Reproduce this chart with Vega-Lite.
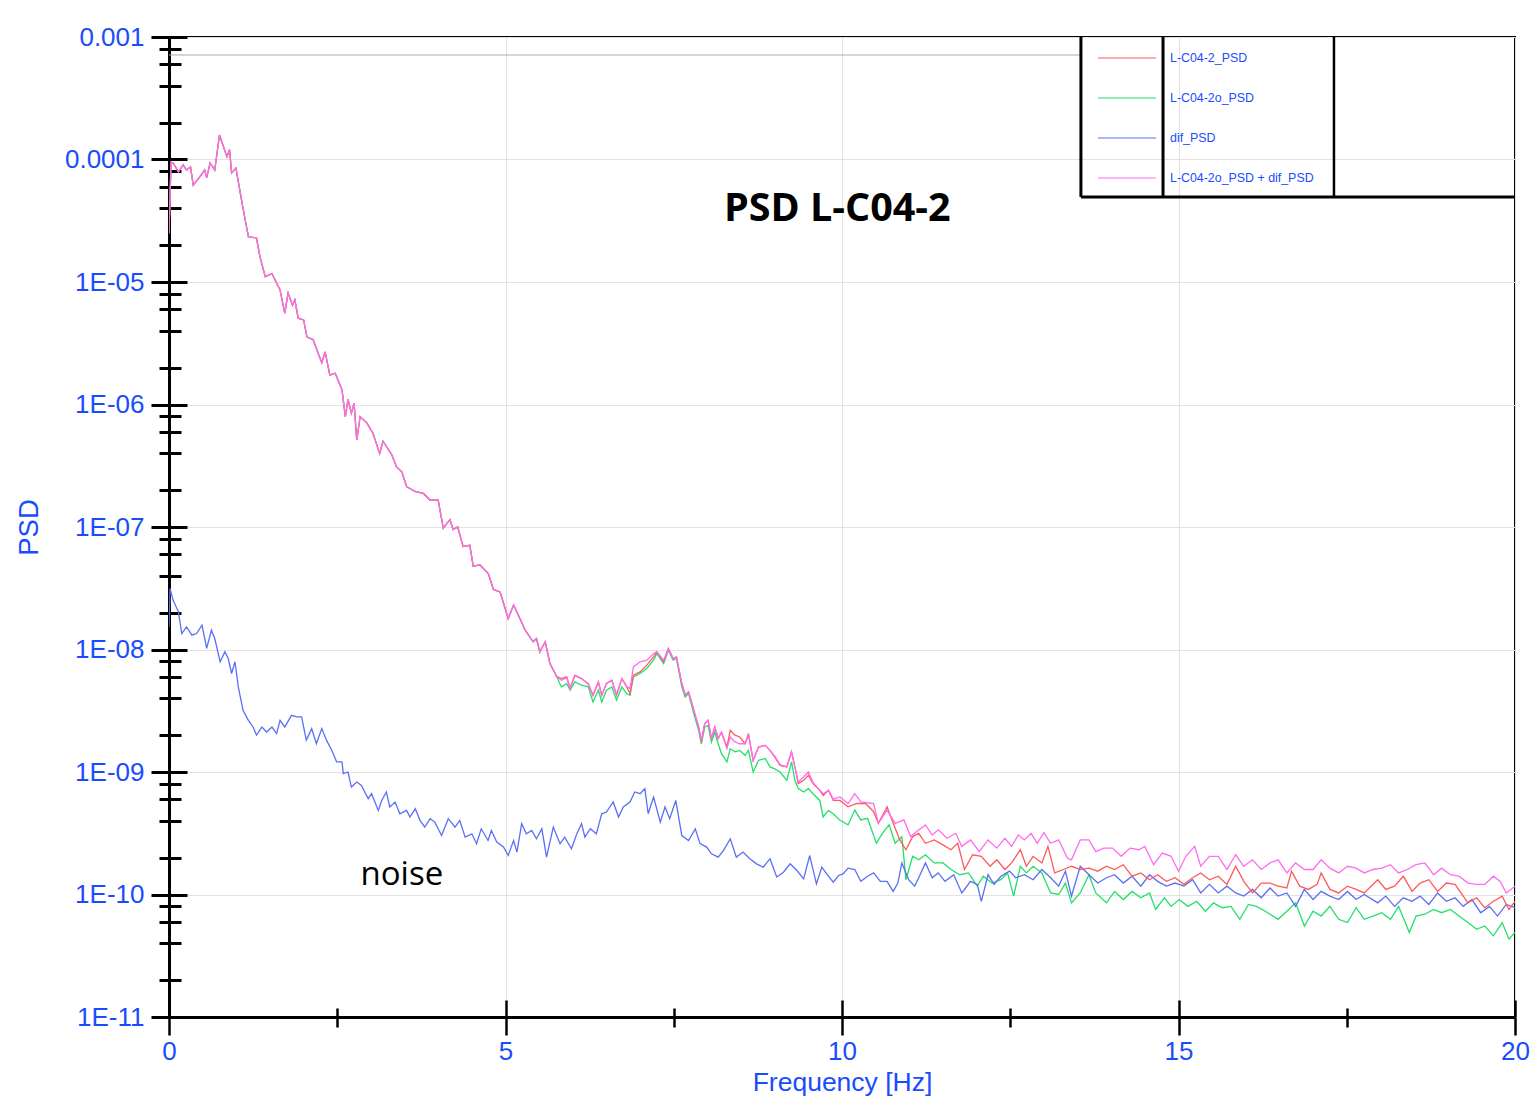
{
"$schema":"https://vega.github.io/schema/vega-lite/v6.json",
"width":1346,"height":980,"autosize":"none",
"padding":{"left":169,"top":37,"right":19,"bottom":93},
"background":"white",
"datasets":{
"red":[{"f":0,"v":2.5e-5},{"f":0.03,"v":9.5e-5},{"f":0.064,"v":9.33e-5},{"f":0.14,"v":7.94e-5},{"f":0.21,"v":9.02e-5},{"f":0.26,"v":8.2e-5},{"f":0.32,"v":8.71e-5},{"f":0.36,"v":6.17e-5},{"f":0.46,"v":7.24e-5},{"f":0.53,"v":8.2e-5},{"f":0.56,"v":7.08e-5},{"f":0.61,"v":9.33e-5},{"f":0.68,"v":8.2e-5},{"f":0.75,"v":1.585e-4},{"f":0.81,"v":1.27e-4},{"f":0.86,"v":1.05e-4},{"f":0.9,"v":1.2e-4},{"f":0.93,"v":7.76e-5},{"f":0.995,"v":8.51e-5},{"f":1.095,"v":4.12e-5},{"f":1.18,"v":2.34e-5},{"f":1.3,"v":2.29e-5},{"f":1.35,"v":1.62e-5},{"f":1.43,"v":1.107e-5},{"f":1.53,"v":1.17e-5},{"f":1.65,"v":8.61e-6},{"f":1.72,"v":5.56e-6},{"f":1.77,"v":8.13e-6},{"f":1.835,"v":6.46e-6},{"f":1.87,"v":7.13e-6},{"f":1.92,"v":5.06e-6},{"f":2.0,"v":4.9e-6},{"f":2.05,"v":3.55e-6},{"f":2.14,"v":3.39e-6},{"f":2.27,"v":2.19e-6},{"f":2.32,"v":2.69e-6},{"f":2.39,"v":1.74e-6},{"f":2.47,"v":1.8e-6},{"f":2.57,"v":1.32e-6},{"f":2.62,"v":7.94e-7},{"f":2.66,"v":1.1e-6},{"f":2.71,"v":8.51e-7},{"f":2.75,"v":1.02e-6},{"f":2.79,"v":5.13e-7},{"f":2.84,"v":7.94e-7},{"f":2.94,"v":7.08e-7},{"f":3.03,"v":5.82e-7},{"f":3.13,"v":3.98e-7},{"f":3.18,"v":5.01e-7},{"f":3.31,"v":3.89e-7},{"f":3.38,"v":3.09e-7},{"f":3.46,"v":2.82e-7},{"f":3.53,"v":2.14e-7},{"f":3.655,"v":1.95e-7},{"f":3.78,"v":1.88e-7},{"f":3.88,"v":1.66e-7},{"f":4.0,"v":1.66e-7},{"f":4.075,"v":9.77e-8},{"f":4.175,"v":1.15e-7},{"f":4.22,"v":9.55e-8},{"f":4.29,"v":1.0e-7},{"f":4.37,"v":6.92e-8},{"f":4.47,"v":7.08e-8},{"f":4.52,"v":4.79e-8},{"f":4.62,"v":4.9e-8},{"f":4.745,"v":4.17e-8},{"f":4.82,"v":3.09e-8},{"f":4.92,"v":2.95e-8},{"f":5.04,"v":1.79e-8},{"f":5.12,"v":2.3e-8},{"f":5.19,"v":1.91e-8},{"f":5.29,"v":1.445e-8},{"f":5.41,"v":1.156e-8},{"f":5.46,"v":1.23e-8},{"f":5.51,"v":9.55e-9},{"f":5.59,"v":1.156e-8},{"f":5.66,"v":7.69e-9},{"f":5.76,"v":6.03e-9},
{"f":5.83,"v":5.79e-9},{"f":5.91,"v":5.98e-9},{"f":5.96,"v":4.8e-9},{"f":6.03,"v":6.17e-9},{"f":6.13,"v":5.79e-9},{"f":6.23,"v":5.27e-9},{"f":6.3,"v":4.23e-9},{"f":6.38,"v":5.44e-9},{"f":6.43,"v":4.23e-9},{"f":6.5,"v":5.27e-9},{"f":6.58,"v":5.61e-9},{"f":6.65,"v":4.23e-9},{"f":6.73,"v":5.79e-9},{"f":6.8,"v":4.95e-9},{"f":6.85,"v":4.37e-9},{"f":6.9,"v":6.17e-9},{"f":7.0,"v":6.56e-9},{"f":7.1,"v":7.45e-9},{"f":7.2,"v":8.71e-9},{"f":7.25,"v":9.57e-9},{"f":7.35,"v":7.94e-9},{"f":7.42,"v":1.02e-8},{"f":7.49,"v":8.44e-9},{"f":7.54,"v":8.71e-9},{"f":7.62,"v":5.27e-9},{"f":7.67,"v":4.23e-9},{"f":7.72,"v":4.51e-9},{"f":7.79,"v":3.3e-9},{"f":7.87,"v":2.33e-9},{"f":7.91,"v":1.76e-9},{"f":7.96,"v":2.48e-9},{"f":8.01,"v":2.64e-9},{"f":8.06,"v":1.87e-9},{"f":8.11,"v":2.33e-9},{"f":8.16,"v":1.87e-9},{"f":8.21,"v":2.12e-9},{"f":8.29,"v":1.6e-9},{"f":8.34,"v":2.19e-9},{"f":8.41,"v":2.0e-9},{"f":8.48,"v":1.93e-9},{"f":8.56,"v":1.7e-9},{"f":8.61,"v":2.06e-9},{"f":8.68,"v":1.245e-9},{"f":8.76,"v":1.6e-9},{"f":8.86,"v":1.65e-9},{"f":8.93,"v":1.5e-9},{"f":9.0,"v":1.33e-9},{"f":9.08,"v":1.13e-9},{"f":9.18,"v":1.1e-9},{"f":9.25,"v":1.46e-9},{"f":9.3,"v":1.1e-9},{"f":9.35,"v":8.03e-10},{"f":9.43,"v":8.55e-10},{"f":9.5,"v":9.4e-10},{"f":9.57,"v":8.03e-10},{"f":9.67,"v":7.08e-10},{"f":9.72,"v":6.44e-10},{"f":9.8,"v":7.08e-10},{"f":9.87,"v":5.86e-10},{"f":9.97,"v":5.86e-10},
{"f":10.09,"v":5.2e-10},{"f":10.22,"v":5.53e-10},{"f":10.35,"v":5.53e-10},{"f":10.47,"v":4.74e-10},{"f":10.54,"v":3.81e-10},{"f":10.67,"v":5.2e-10},{"f":10.76,"v":3.81e-10},{"f":10.86,"v":2.79e-10},{"f":10.95,"v":2.32e-10},{"f":11.05,"v":2.97e-10},{"f":11.14,"v":3.16e-10},{"f":11.24,"v":2.62e-10},{"f":11.37,"v":2.79e-10},{"f":11.5,"v":2.54e-10},{"f":11.62,"v":2.32e-10},{"f":11.72,"v":2.62e-10},{"f":11.82,"v":1.6e-10},{"f":11.94,"v":2.11e-10},{"f":12.07,"v":2.05e-10},{"f":12.2,"v":1.7e-10},{"f":12.3,"v":1.92e-10},{"f":12.42,"v":1.6e-10},{"f":12.52,"v":1.81e-10},{"f":12.65,"v":2.32e-10},{"f":12.74,"v":1.7e-10},{"f":12.84,"v":2.05e-10},{"f":12.97,"v":1.81e-10},{"f":13.06,"v":2.47e-10},{"f":13.16,"v":1.5e-10},{"f":13.29,"v":1.6e-10},{"f":13.41,"v":1.7e-10},{"f":13.54,"v":1.6e-10},{"f":13.67,"v":1.64e-10},{"f":13.8,"v":1.55e-10},{"f":13.93,"v":1.7e-10},{"f":14.05,"v":1.6e-10},{"f":14.18,"v":1.75e-10},{"f":14.31,"v":1.41e-10},{"f":14.44,"v":1.5e-10},{"f":14.57,"v":1.32e-10},{"f":14.69,"v":1.45e-10},{"f":14.82,"v":1.28e-10},{"f":14.95,"v":1.37e-10},{"f":15.08,"v":1.21e-10},{"f":15.21,"v":1.37e-10},{"f":15.33,"v":1.5e-10},{"f":15.46,"v":1.32e-10},{"f":15.59,"v":1.41e-10},{"f":15.72,"v":1.21e-10},{"f":15.85,"v":1.7e-10},{"f":15.97,"v":1.28e-10},{"f":16.1,"v":1.03e-10},{"f":16.23,"v":1.24e-10},{"f":16.36,"v":1.24e-10},{"f":16.48,"v":1.17e-10},{"f":16.61,"v":1.13e-10},{"f":16.68,"v":1.55e-10},{"f":16.8,"v":1.17e-10},{"f":16.93,"v":1.1e-10},{"f":17.06,"v":1.21e-10},{"f":17.12,"v":1.5e-10},{"f":17.25,"v":1.1e-10},{"f":17.38,"v":1.03e-10},{"f":17.51,"v":1.17e-10},{"f":17.64,"v":1.1e-10},{"f":17.76,"v":1.03e-10},{"f":17.96,"v":1.32e-10},{"f":18.08,"v":1.1e-10},{"f":18.21,"v":1.17e-10},{"f":18.34,"v":1.41e-10},{"f":18.47,"v":1.06e-10},{"f":18.59,"v":1.24e-10},{"f":18.72,"v":1.32e-10},{"f":18.85,"v":1.06e-10},{"f":18.98,"v":1.24e-10},{"f":19.11,"v":1.21e-10},{"f":19.3,"v":8.55e-11},{"f":19.43,"v":9.4e-11},{"f":19.55,"v":7.8e-11},{"f":19.68,"v":8.8e-11},{"f":19.81,"v":9.7e-11},{"f":19.91,"v":7.55e-11},{"f":20,"v":8.8e-11}],
"green":[{"f":0,"v":2.5e-5},{"f":0.03,"v":9.5e-5},{"f":0.064,"v":9.33e-5},{"f":0.14,"v":7.94e-5},{"f":0.21,"v":9.02e-5},{"f":0.26,"v":8.2e-5},{"f":0.32,"v":8.71e-5},{"f":0.36,"v":6.17e-5},{"f":0.46,"v":7.24e-5},{"f":0.53,"v":8.2e-5},{"f":0.56,"v":7.08e-5},{"f":0.61,"v":9.33e-5},{"f":0.68,"v":8.2e-5},{"f":0.75,"v":1.585e-4},{"f":0.81,"v":1.27e-4},{"f":0.86,"v":1.05e-4},{"f":0.9,"v":1.2e-4},{"f":0.93,"v":7.76e-5},{"f":0.995,"v":8.51e-5},{"f":1.095,"v":4.12e-5},{"f":1.18,"v":2.34e-5},{"f":1.3,"v":2.29e-5},{"f":1.35,"v":1.62e-5},{"f":1.43,"v":1.107e-5},{"f":1.53,"v":1.17e-5},{"f":1.65,"v":8.61e-6},{"f":1.72,"v":5.56e-6},{"f":1.77,"v":8.13e-6},{"f":1.835,"v":6.46e-6},{"f":1.87,"v":7.13e-6},{"f":1.92,"v":5.06e-6},{"f":2.0,"v":4.9e-6},{"f":2.05,"v":3.55e-6},{"f":2.14,"v":3.39e-6},{"f":2.27,"v":2.19e-6},{"f":2.32,"v":2.69e-6},{"f":2.39,"v":1.74e-6},{"f":2.47,"v":1.8e-6},{"f":2.57,"v":1.32e-6},{"f":2.62,"v":7.94e-7},{"f":2.66,"v":1.1e-6},{"f":2.71,"v":8.51e-7},{"f":2.75,"v":1.02e-6},{"f":2.79,"v":5.13e-7},{"f":2.84,"v":7.94e-7},{"f":2.94,"v":7.08e-7},{"f":3.03,"v":5.82e-7},{"f":3.13,"v":3.98e-7},{"f":3.18,"v":5.01e-7},{"f":3.31,"v":3.89e-7},{"f":3.38,"v":3.09e-7},{"f":3.46,"v":2.82e-7},{"f":3.53,"v":2.14e-7},{"f":3.655,"v":1.95e-7},{"f":3.78,"v":1.88e-7},{"f":3.88,"v":1.66e-7},{"f":4.0,"v":1.66e-7},{"f":4.075,"v":9.77e-8},{"f":4.175,"v":1.15e-7},{"f":4.22,"v":9.55e-8},{"f":4.29,"v":1.0e-7},{"f":4.37,"v":6.92e-8},{"f":4.47,"v":7.08e-8},{"f":4.52,"v":4.79e-8},{"f":4.62,"v":4.9e-8},{"f":4.745,"v":4.17e-8},{"f":4.82,"v":3.09e-8},{"f":4.92,"v":2.95e-8},{"f":5.04,"v":1.79e-8},{"f":5.12,"v":2.3e-8},{"f":5.19,"v":1.91e-8},{"f":5.29,"v":1.445e-8},{"f":5.41,"v":1.156e-8},{"f":5.46,"v":1.23e-8},{"f":5.51,"v":9.55e-9},{"f":5.59,"v":1.156e-8},{"f":5.66,"v":7.69e-9},{"f":5.76,"v":6.03e-9},
{"f":5.83,"v":4.95e-9},{"f":5.91,"v":5.27e-9},{"f":5.96,"v":4.65e-9},{"f":6.03,"v":5.44e-9},{"f":6.13,"v":5.11e-9},{"f":6.23,"v":4.95e-9},{"f":6.3,"v":3.73e-9},{"f":6.38,"v":4.65e-9},{"f":6.43,"v":3.73e-9},{"f":6.5,"v":4.65e-9},{"f":6.58,"v":4.95e-9},{"f":6.65,"v":3.85e-9},{"f":6.73,"v":4.95e-9},{"f":6.8,"v":4.37e-9},{"f":6.85,"v":4.23e-9},{"f":6.9,"v":5.98e-9},{"f":7.0,"v":6.37e-9},{"f":7.1,"v":7.0e-9},{"f":7.2,"v":8.18e-9},{"f":7.25,"v":9.27e-9},{"f":7.35,"v":7.69e-9},{"f":7.42,"v":9.9e-9},{"f":7.49,"v":8.18e-9},{"f":7.54,"v":8.44e-9},{"f":7.62,"v":4.95e-9},{"f":7.67,"v":4.1e-9},{"f":7.72,"v":4.37e-9},{"f":7.79,"v":3.1e-9},{"f":7.87,"v":2.19e-9},{"f":7.91,"v":1.7e-9},{"f":7.96,"v":2.33e-9},{"f":8.01,"v":2.4e-9},{"f":8.06,"v":1.76e-9},{"f":8.11,"v":2.12e-9},{"f":8.16,"v":1.7e-9},{"f":8.21,"v":1.41e-9},{"f":8.29,"v":1.21e-9},{"f":8.34,"v":1.55e-9},{"f":8.41,"v":1.46e-9},{"f":8.48,"v":1.5e-9},{"f":8.56,"v":1.37e-9},{"f":8.61,"v":1.5e-9},{"f":8.68,"v":1.0e-9},{"f":8.76,"v":1.245e-9},{"f":8.86,"v":1.29e-9},{"f":8.93,"v":1.1e-9},{"f":9.0,"v":1.06e-9},{"f":9.08,"v":1.0e-9},{"f":9.18,"v":8.55e-10},{"f":9.25,"v":1.21e-9},{"f":9.3,"v":8.55e-10},{"f":9.35,"v":7.31e-10},{"f":9.43,"v":6.87e-10},{"f":9.5,"v":7.31e-10},{"f":9.57,"v":6.65e-10},{"f":9.67,"v":5.86e-10},{"f":9.72,"v":4.29e-10},{"f":9.8,"v":4.86e-10},{"f":9.87,"v":4.56e-10},{"f":9.97,"v":4.03e-10},
{"f":10.09,"v":3.7e-10},{"f":10.19,"v":4.89e-10},{"f":10.28,"v":4.06e-10},{"f":10.38,"v":4.19e-10},{"f":10.51,"v":2.62e-10},{"f":10.6,"v":3.16e-10},{"f":10.7,"v":3.7e-10},{"f":10.79,"v":2.62e-10},{"f":10.89,"v":2.97e-10},{"f":10.95,"v":1.32e-10},{"f":11.05,"v":2.05e-10},{"f":11.14,"v":1.92e-10},{"f":11.24,"v":2.11e-10},{"f":11.37,"v":1.81e-10},{"f":11.5,"v":1.81e-10},{"f":11.62,"v":1.6e-10},{"f":11.75,"v":1.45e-10},{"f":11.88,"v":1.5e-10},{"f":12.01,"v":1.17e-10},{"f":12.1,"v":1.41e-10},{"f":12.23,"v":1.24e-10},{"f":12.36,"v":1.32e-10},{"f":12.46,"v":1.5e-10},{"f":12.55,"v":9.7e-11},{"f":12.65,"v":1.7e-10},{"f":12.74,"v":1.5e-10},{"f":12.84,"v":1.7e-10},{"f":12.97,"v":1.5e-10},{"f":13.1,"v":1.03e-10},{"f":13.22,"v":1.0e-10},{"f":13.32,"v":1.24e-10},{"f":13.41,"v":8.55e-11},{"f":13.54,"v":1.03e-10},{"f":13.67,"v":1.45e-10},{"f":13.77,"v":1.03e-10},{"f":13.93,"v":8.55e-11},{"f":14.05,"v":1.06e-10},{"f":14.18,"v":9.1e-11},{"f":14.31,"v":1.06e-10},{"f":14.44,"v":9.4e-11},{"f":14.57,"v":1.03e-10},{"f":14.66,"v":7.55e-11},{"f":14.79,"v":9.4e-11},{"f":14.89,"v":8.0e-11},{"f":15.01,"v":9.1e-11},{"f":15.14,"v":8.0e-11},{"f":15.27,"v":8.8e-11},{"f":15.4,"v":7.3e-11},{"f":15.52,"v":8.55e-11},{"f":15.65,"v":7.8e-11},{"f":15.78,"v":8.0e-11},{"f":15.91,"v":6.27e-11},{"f":16.04,"v":8.3e-11},{"f":16.16,"v":8.0e-11},{"f":16.29,"v":7.3e-11},{"f":16.48,"v":6.27e-11},{"f":16.61,"v":7.3e-11},{"f":16.74,"v":8.55e-11},{"f":16.87,"v":5.53e-11},{"f":17.0,"v":7.3e-11},{"f":17.12,"v":6.67e-11},{"f":17.25,"v":8.0e-11},{"f":17.38,"v":6.27e-11},{"f":17.51,"v":5.9e-11},{"f":17.64,"v":7.8e-11},{"f":17.76,"v":6.27e-11},{"f":17.89,"v":6.67e-11},{"f":18.02,"v":7.1e-11},{"f":18.15,"v":6.27e-11},{"f":18.27,"v":8.0e-11},{"f":18.43,"v":4.89e-11},{"f":18.53,"v":6.67e-11},{"f":18.66,"v":6.9e-11},{"f":18.79,"v":7.55e-11},{"f":18.91,"v":7.1e-11},{"f":19.04,"v":7.55e-11},{"f":19.17,"v":6.67e-11},{"f":19.3,"v":5.9e-11},{"f":19.43,"v":5.2e-11},{"f":19.55,"v":5.53e-11},{"f":19.68,"v":4.6e-11},{"f":19.81,"v":5.9e-11},{"f":19.91,"v":4.32e-11},{"f":20,"v":4.89e-11}],
"blue":[{"f":0,"v":1.53e-8},{"f":0.015,"v":3.15e-8},{"f":0.06,"v":2.53e-8},{"f":0.14,"v":2.03e-8},{"f":0.19,"v":1.35e-8},{"f":0.26,"v":1.53e-8},{"f":0.34,"v":1.31e-8},{"f":0.41,"v":1.35e-8},{"f":0.49,"v":1.58e-8},{"f":0.56,"v":1.02e-8},{"f":0.63,"v":1.44e-8},{"f":0.68,"v":1.23e-8},{"f":0.76,"v":7.94e-9},{"f":0.83,"v":9.57e-9},{"f":0.88,"v":8.44e-9},{"f":0.93,"v":6.37e-9},{"f":0.98,"v":7.94e-9},{"f":1.03,"v":4.95e-9},{"f":1.1,"v":3.19e-9},{"f":1.18,"v":2.64e-9},{"f":1.25,"v":2.33e-9},{"f":1.3,"v":2.0e-9},{"f":1.38,"v":2.33e-9},{"f":1.45,"v":2.12e-9},{"f":1.53,"v":2.33e-9},{"f":1.6,"v":2.06e-9},{"f":1.65,"v":2.64e-9},{"f":1.72,"v":2.33e-9},{"f":1.82,"v":2.9e-9},{"f":1.9,"v":2.82e-9},{"f":1.97,"v":2.82e-9},{"f":2.04,"v":1.82e-9},{"f":2.12,"v":2.26e-9},{"f":2.19,"v":1.7e-9},{"f":2.27,"v":2.26e-9},{"f":2.34,"v":1.82e-9},{"f":2.42,"v":1.5e-9},{"f":2.49,"v":1.21e-9},{"f":2.57,"v":1.21e-9},{"f":2.59,"v":9.7e-10},{"f":2.66,"v":1.0e-9},{"f":2.71,"v":7.53e-10},{"f":2.79,"v":8.28e-10},{"f":2.86,"v":7.78e-10},{"f":2.96,"v":6.05e-10},{"f":3.01,"v":6.65e-10},{"f":3.11,"v":4.86e-10},{"f":3.16,"v":5.86e-10},{"f":3.23,"v":6.87e-10},{"f":3.28,"v":5.18e-10},{"f":3.36,"v":5.69e-10},{"f":3.43,"v":4.56e-10},{"f":3.53,"v":4.86e-10},{"f":3.58,"v":4.29e-10},{"f":3.66,"v":5.01e-10},{"f":3.73,"v":4.03e-10},{"f":3.8,"v":3.55e-10},{"f":3.88,"v":4.16e-10},{"f":3.95,"v":3.9e-10},{"f":4.05,"v":3.03e-10},{"f":4.15,"v":4.16e-10},{"f":4.25,"v":3.55e-10},{"f":4.32,"v":4.03e-10},{"f":4.4,"v":2.94e-10},{"f":4.5,"v":3.13e-10},{"f":4.57,"v":2.6e-10},{"f":4.64,"v":3.44e-10},{"f":4.74,"v":2.76e-10},{"f":4.79,"v":3.33e-10},{"f":4.87,"v":2.68e-10},{"f":4.97,"v":2.44e-10},{"f":5.04,"v":2.08e-10},{"f":5.12,"v":2.76e-10},{"f":5.17,"v":2.22e-10},{"f":5.24,"v":3.78e-10},{"f":5.31,"v":3.13e-10},{"f":5.39,"v":3.33e-10},{"f":5.46,"v":2.85e-10},{"f":5.54,"v":3.44e-10},{"f":5.61,"v":2.02e-10},{"f":5.71,"v":3.55e-10},{"f":5.81,"v":2.6e-10},{"f":5.88,"v":2.94e-10},{"f":5.98,"v":2.36e-10},{"f":6.06,"v":3.13e-10},{"f":6.13,"v":3.78e-10},{"f":6.18,"v":2.94e-10},{"f":6.26,"v":3.44e-10},{"f":6.35,"v":3.13e-10},{"f":6.43,"v":4.56e-10},{"f":6.5,"v":4.71e-10},{"f":6.6,"v":5.69e-10},{"f":6.68,"v":4.29e-10},{"f":6.75,"v":5.18e-10},{"f":6.85,"v":5.69e-10},{"f":6.92,"v":6.87e-10},{"f":7.0,"v":6.65e-10},{"f":7.07,"v":7.31e-10},{"f":7.12,"v":4.56e-10},{"f":7.2,"v":6.25e-10},{"f":7.3,"v":3.9e-10},{"f":7.37,"v":5.18e-10},{"f":7.44,"v":4.16e-10},{"f":7.53,"v":5.86e-10},{"f":7.62,"v":3.03e-10},{"f":7.72,"v":2.76e-10},{"f":7.82,"v":3.44e-10},{"f":7.89,"v":2.6e-10},{"f":7.99,"v":2.44e-10},{"f":8.06,"v":2.15e-10},{"f":8.16,"v":2.02e-10},{"f":8.24,"v":2.29e-10},{"f":8.34,"v":2.85e-10},{"f":8.43,"v":2.02e-10},{"f":8.53,"v":2.22e-10},{"f":8.63,"v":1.96e-10},{"f":8.73,"v":1.78e-10},{"f":8.83,"v":1.67e-10},{"f":8.93,"v":1.96e-10},{"f":9.03,"v":1.39e-10},{"f":9.13,"v":1.52e-10},{"f":9.23,"v":1.78e-10},{"f":9.33,"v":1.57e-10},{"f":9.43,"v":1.34e-10},{"f":9.52,"v":2.08e-10},{"f":9.62,"v":1.22e-10},{"f":9.7,"v":1.67e-10},{"f":9.77,"v":1.48e-10},{"f":9.87,"v":1.26e-10},{"f":9.95,"v":1.43e-10},{"f":10.02,"v":1.48e-10},
{"f":10.09,"v":1.64e-10},{"f":10.19,"v":1.6e-10},{"f":10.28,"v":1.28e-10},{"f":10.38,"v":1.41e-10},{"f":10.47,"v":1.5e-10},{"f":10.57,"v":1.28e-10},{"f":10.67,"v":1.28e-10},{"f":10.76,"v":1.06e-10},{"f":10.83,"v":1.24e-10},{"f":10.89,"v":1.81e-10},{"f":10.99,"v":1.32e-10},{"f":11.08,"v":1.17e-10},{"f":11.14,"v":1.37e-10},{"f":11.24,"v":1.81e-10},{"f":11.34,"v":1.37e-10},{"f":11.43,"v":1.5e-10},{"f":11.53,"v":1.28e-10},{"f":11.66,"v":1.45e-10},{"f":11.78,"v":1.03e-10},{"f":11.91,"v":1.28e-10},{"f":12.01,"v":1.21e-10},{"f":12.07,"v":8.8e-11},{"f":12.17,"v":1.45e-10},{"f":12.26,"v":1.21e-10},{"f":12.36,"v":1.41e-10},{"f":12.49,"v":1.55e-10},{"f":12.58,"v":1.37e-10},{"f":12.71,"v":1.45e-10},{"f":12.84,"v":1.32e-10},{"f":12.97,"v":1.6e-10},{"f":13.1,"v":1.37e-10},{"f":13.22,"v":1.17e-10},{"f":13.32,"v":1.55e-10},{"f":13.41,"v":9.7e-11},{"f":13.54,"v":1.7e-10},{"f":13.67,"v":1.45e-10},{"f":13.8,"v":1.24e-10},{"f":13.93,"v":1.37e-10},{"f":14.05,"v":1.45e-10},{"f":14.18,"v":1.24e-10},{"f":14.31,"v":1.41e-10},{"f":14.44,"v":1.17e-10},{"f":14.57,"v":1.45e-10},{"f":14.69,"v":1.28e-10},{"f":14.82,"v":1.17e-10},{"f":14.95,"v":1.24e-10},{"f":15.08,"v":1.17e-10},{"f":15.21,"v":1.32e-10},{"f":15.33,"v":1.03e-10},{"f":15.46,"v":1.21e-10},{"f":15.59,"v":1.03e-10},{"f":15.72,"v":1.17e-10},{"f":15.85,"v":1.03e-10},{"f":15.97,"v":9.7e-11},{"f":16.1,"v":1.1e-10},{"f":16.23,"v":9.4e-11},{"f":16.36,"v":1.13e-10},{"f":16.48,"v":9.7e-11},{"f":16.61,"v":1.03e-10},{"f":16.74,"v":8.0e-11},{"f":16.87,"v":1.1e-10},{"f":17.0,"v":9.1e-11},{"f":17.12,"v":1.06e-10},{"f":17.25,"v":9.7e-11},{"f":17.38,"v":9.1e-11},{"f":17.51,"v":1.06e-10},{"f":17.64,"v":9.1e-11},{"f":17.76,"v":1.0e-10},{"f":17.96,"v":8.55e-11},{"f":18.08,"v":9.7e-11},{"f":18.21,"v":8.0e-11},{"f":18.34,"v":9.4e-11},{"f":18.47,"v":8.8e-11},{"f":18.59,"v":9.7e-11},{"f":18.72,"v":8.3e-11},{"f":18.85,"v":1.03e-10},{"f":18.98,"v":8.8e-11},{"f":19.11,"v":9.4e-11},{"f":19.23,"v":8.0e-11},{"f":19.36,"v":9.1e-11},{"f":19.49,"v":7.1e-11},{"f":19.62,"v":8.0e-11},{"f":19.74,"v":6.67e-11},{"f":19.87,"v":8.3e-11},{"f":20,"v":7.8e-11}],
"pink":[{"f":0,"v":2.5e-5},{"f":0.03,"v":9.5e-5},{"f":0.064,"v":9.33e-5},{"f":0.14,"v":7.94e-5},{"f":0.21,"v":9.02e-5},{"f":0.26,"v":8.2e-5},{"f":0.32,"v":8.71e-5},{"f":0.36,"v":6.17e-5},{"f":0.46,"v":7.24e-5},{"f":0.53,"v":8.2e-5},{"f":0.56,"v":7.08e-5},{"f":0.61,"v":9.33e-5},{"f":0.68,"v":8.2e-5},{"f":0.75,"v":1.585e-4},{"f":0.81,"v":1.27e-4},{"f":0.86,"v":1.05e-4},{"f":0.9,"v":1.2e-4},{"f":0.93,"v":7.76e-5},{"f":0.995,"v":8.51e-5},{"f":1.095,"v":4.12e-5},{"f":1.18,"v":2.34e-5},{"f":1.3,"v":2.29e-5},{"f":1.35,"v":1.62e-5},{"f":1.43,"v":1.107e-5},{"f":1.53,"v":1.17e-5},{"f":1.65,"v":8.61e-6},{"f":1.72,"v":5.56e-6},{"f":1.77,"v":8.13e-6},{"f":1.835,"v":6.46e-6},{"f":1.87,"v":7.13e-6},{"f":1.92,"v":5.06e-6},{"f":2.0,"v":4.9e-6},{"f":2.05,"v":3.55e-6},{"f":2.14,"v":3.39e-6},{"f":2.27,"v":2.19e-6},{"f":2.32,"v":2.69e-6},{"f":2.39,"v":1.74e-6},{"f":2.47,"v":1.8e-6},{"f":2.57,"v":1.32e-6},{"f":2.62,"v":7.94e-7},{"f":2.66,"v":1.1e-6},{"f":2.71,"v":8.51e-7},{"f":2.75,"v":1.02e-6},{"f":2.79,"v":5.13e-7},{"f":2.84,"v":7.94e-7},{"f":2.94,"v":7.08e-7},{"f":3.03,"v":5.82e-7},{"f":3.13,"v":3.98e-7},{"f":3.18,"v":5.01e-7},{"f":3.31,"v":3.89e-7},{"f":3.38,"v":3.09e-7},{"f":3.46,"v":2.82e-7},{"f":3.53,"v":2.14e-7},{"f":3.655,"v":1.95e-7},{"f":3.78,"v":1.88e-7},{"f":3.88,"v":1.66e-7},{"f":4.0,"v":1.66e-7},{"f":4.075,"v":9.77e-8},{"f":4.175,"v":1.15e-7},{"f":4.22,"v":9.55e-8},{"f":4.29,"v":1.0e-7},{"f":4.37,"v":6.92e-8},{"f":4.47,"v":7.08e-8},{"f":4.52,"v":4.79e-8},{"f":4.62,"v":4.9e-8},{"f":4.745,"v":4.17e-8},{"f":4.82,"v":3.09e-8},{"f":4.92,"v":2.95e-8},{"f":5.04,"v":1.79e-8},{"f":5.12,"v":2.3e-8},{"f":5.19,"v":1.91e-8},{"f":5.29,"v":1.445e-8},{"f":5.41,"v":1.156e-8},{"f":5.46,"v":1.23e-8},{"f":5.51,"v":9.55e-9},{"f":5.59,"v":1.156e-8},{"f":5.66,"v":7.69e-9},{"f":5.76,"v":6.03e-9},
{"f":5.83,"v":5.61e-9},{"f":5.91,"v":5.9e-9},{"f":5.96,"v":4.8e-9},{"f":6.03,"v":6.1e-9},{"f":6.13,"v":5.8e-9},{"f":6.23,"v":5.2e-9},{"f":6.3,"v":4.2e-9},{"f":6.38,"v":5.4e-9},{"f":6.43,"v":4.2e-9},{"f":6.5,"v":5.3e-9},{"f":6.58,"v":5.6e-9},{"f":6.65,"v":4.3e-9},{"f":6.73,"v":5.8e-9},{"f":6.8,"v":5.0e-9},{"f":6.85,"v":4.8e-9},{"f":6.9,"v":7.21e-9},{"f":7.0,"v":7.94e-9},{"f":7.1,"v":8.18e-9},{"f":7.2,"v":9.27e-9},{"f":7.25,"v":9.57e-9},{"f":7.35,"v":8.18e-9},{"f":7.42,"v":1.02e-8},{"f":7.49,"v":8.44e-9},{"f":7.54,"v":8.71e-9},{"f":7.62,"v":5.3e-9},{"f":7.67,"v":4.3e-9},{"f":7.72,"v":4.5e-9},{"f":7.79,"v":3.3e-9},{"f":7.87,"v":2.33e-9},{"f":7.91,"v":1.8e-9},{"f":7.96,"v":2.48e-9},{"f":8.01,"v":2.64e-9},{"f":8.06,"v":1.87e-9},{"f":8.11,"v":2.33e-9},{"f":8.16,"v":1.9e-9},{"f":8.21,"v":2.1e-9},{"f":8.29,"v":1.55e-9},{"f":8.34,"v":1.93e-9},{"f":8.41,"v":1.76e-9},{"f":8.48,"v":1.7e-9},{"f":8.56,"v":1.7e-9},{"f":8.61,"v":2.0e-9},{"f":8.68,"v":1.24e-9},{"f":8.76,"v":1.6e-9},{"f":8.86,"v":1.65e-9},{"f":8.93,"v":1.5e-9},{"f":9.0,"v":1.35e-9},{"f":9.08,"v":1.15e-9},{"f":9.18,"v":1.1e-9},{"f":9.25,"v":1.46e-9},{"f":9.3,"v":1.1e-9},{"f":9.35,"v":8.3e-10},{"f":9.43,"v":9.1e-10},{"f":9.5,"v":1.0e-9},{"f":9.57,"v":8.2e-10},{"f":9.67,"v":7.1e-10},{"f":9.72,"v":6.65e-10},{"f":9.8,"v":7.1e-10},{"f":9.87,"v":6.0e-10},{"f":9.97,"v":6.25e-10},
{"f":10.09,"v":5.53e-10},{"f":10.19,"v":6.67e-10},{"f":10.28,"v":5.71e-10},{"f":10.47,"v":5.53e-10},{"f":10.54,"v":3.81e-10},{"f":10.67,"v":4.89e-10},{"f":10.79,"v":3.81e-10},{"f":10.92,"v":4.06e-10},{"f":11.02,"v":2.97e-10},{"f":11.11,"v":3.27e-10},{"f":11.24,"v":3.7e-10},{"f":11.34,"v":3.06e-10},{"f":11.43,"v":3.37e-10},{"f":11.56,"v":2.88e-10},{"f":11.69,"v":3.16e-10},{"f":11.78,"v":2.47e-10},{"f":11.91,"v":2.79e-10},{"f":12.04,"v":2.24e-10},{"f":12.17,"v":2.79e-10},{"f":12.3,"v":2.39e-10},{"f":12.42,"v":2.88e-10},{"f":12.52,"v":2.47e-10},{"f":12.62,"v":3.06e-10},{"f":12.71,"v":2.79e-10},{"f":12.81,"v":3.16e-10},{"f":12.9,"v":2.62e-10},{"f":13.0,"v":3.2e-10},{"f":13.1,"v":2.62e-10},{"f":13.22,"v":2.79e-10},{"f":13.35,"v":1.98e-10},{"f":13.41,"v":1.92e-10},{"f":13.54,"v":2.79e-10},{"f":13.67,"v":2.79e-10},{"f":13.77,"v":2.24e-10},{"f":13.89,"v":2.39e-10},{"f":14.02,"v":2.39e-10},{"f":14.15,"v":2.05e-10},{"f":14.28,"v":2.39e-10},{"f":14.41,"v":2.32e-10},{"f":14.5,"v":2.47e-10},{"f":14.63,"v":1.75e-10},{"f":14.76,"v":2.18e-10},{"f":14.89,"v":2.05e-10},{"f":15.0,"v":1.55e-10},{"f":15.11,"v":2.05e-10},{"f":15.24,"v":2.47e-10},{"f":15.33,"v":1.7e-10},{"f":15.46,"v":2.05e-10},{"f":15.59,"v":2.05e-10},{"f":15.72,"v":1.6e-10},{"f":15.85,"v":2.11e-10},{"f":15.97,"v":1.7e-10},{"f":16.1,"v":1.92e-10},{"f":16.23,"v":1.6e-10},{"f":16.36,"v":1.81e-10},{"f":16.48,"v":1.92e-10},{"f":16.61,"v":1.5e-10},{"f":16.74,"v":1.81e-10},{"f":16.87,"v":1.6e-10},{"f":17.0,"v":1.6e-10},{"f":17.12,"v":1.92e-10},{"f":17.25,"v":1.64e-10},{"f":17.38,"v":1.5e-10},{"f":17.51,"v":1.7e-10},{"f":17.64,"v":1.64e-10},{"f":17.76,"v":1.5e-10},{"f":17.89,"v":1.6e-10},{"f":18.02,"v":1.64e-10},{"f":18.15,"v":1.75e-10},{"f":18.27,"v":1.5e-10},{"f":18.4,"v":1.6e-10},{"f":18.53,"v":1.75e-10},{"f":18.66,"v":1.81e-10},{"f":18.79,"v":1.45e-10},{"f":18.91,"v":1.64e-10},{"f":19.04,"v":1.45e-10},{"f":19.17,"v":1.41e-10},{"f":19.3,"v":1.24e-10},{"f":19.43,"v":1.21e-10},{"f":19.55,"v":1.21e-10},{"f":19.68,"v":1.41e-10},{"f":19.78,"v":1.28e-10},{"f":19.87,"v":1.03e-10},{"f":20,"v":1.17e-10}]
},
"layer":[
{"data":{"name":"green"},"mark":{"type":"line","strokeWidth":1.3,"clip":true},
 "encoding":{
  "x":{"field":"f","type":"quantitative","scale":{"domain":[0,20],"nice":false,"zero":false},
   "axis":{"orient":"bottom","values":[0,5,10,15,20],"labelFont":"Liberation Sans","labelFontSize":26,"labelColor":"#1a4cff","labelPadding":3,"tickSize":18,"tickWidth":2.5,"tickColor":"black","domainColor":"black","domainWidth":3,"grid":true,"gridColor":"#e2e2e2","gridWidth":1,"title":"Frequency [Hz]","titleFont":"Liberation Sans","titleFontSize":26.5,"titleFontWeight":"normal","titleColor":"#1a4cff","titlePadding":5}},
  "y":{"field":"v","type":"quantitative","scale":{"type":"log","domain":[1e-11,1e-3],"nice":false},
   "axis":{"orient":"left","values":[1e-11,1e-10,1e-9,1e-8,1e-7,1e-6,1e-5,1e-4,1e-3],"labelExpr":"datum.value > 5e-4 ? '0.001' : datum.value > 5e-5 ? '0.0001' : (round(-log(datum.value)/LN10) < 10 ? '1E-0' : '1E-') + round(-log(datum.value)/LN10)","labelFont":"Liberation Sans","labelFontSize":26,"labelColor":"#1a4cff","labelPadding":7,"tickSize":18,"tickWidth":3,"tickColor":"black","domainColor":"black","domainWidth":3,"grid":true,"gridColor":"#e2e2e2","gridWidth":1,"title":"PSD","titleFont":"Liberation Sans","titleFontSize":27.5,"titleFontWeight":"normal","titleColor":"#1a4cff","titlePadding":21}},
  "color":{"datum":"L-C04-2o_PSD","type":"nominal","scale":{"domain":["L-C04-2_PSD","L-C04-2o_PSD","dif_PSD","L-C04-2o_PSD + dif_PSD"],"range":["#ff5a5a","#22e06a","#5a6ff5","#ff6cf0"]},"legend":{"title":null}}}},
{"data":{"name":"blue"},"mark":{"type":"line","strokeWidth":1.3,"clip":true},
 "encoding":{
  "x":{"field":"f","type":"quantitative","axis":{"orient":"bottom","values":[0,5,10,15,20],"offset":-17,"tickSize":17,"tickWidth":2.5,"tickColor":"black","labels":false,"domain":false,"grid":false,"title":null}},
  "y":{"field":"v","type":"quantitative","axis":{"orient":"left","values":[1e-11,1e-10,1e-9,1e-8,1e-7,1e-6,1e-5,1e-4,1e-3],"offset":-18,"tickSize":18,"tickWidth":3,"tickColor":"black","labels":false,"domain":false,"grid":false,"title":null}},
  "color":{"datum":"dif_PSD","type":"nominal"}}},
{"data":{"name":"red"},"mark":{"type":"line","strokeWidth":1.3,"clip":true},
 "encoding":{
  "x":{"field":"f","type":"quantitative","axis":{"orient":"bottom","values":[2.5,7.5,12.5,17.5],"tickSize":10,"tickWidth":2.5,"tickColor":"black","labels":false,"domain":false,"grid":false,"title":null}},
  "y":{"field":"v","type":"quantitative","axis":{"orient":"left","values":[2e-11,4e-11,6e-11,8e-11,2e-10,4e-10,6e-10,8e-10,2e-9,4e-9,6e-9,8e-9,2e-8,4e-8,6e-8,8e-8,2e-7,4e-7,6e-7,8e-7,2e-6,4e-6,6e-6,8e-6,2e-5,4e-5,6e-5,8e-5,2e-4,4e-4,6e-4,8e-4],"tickSize":10,"tickWidth":3,"tickColor":"black","labels":false,"domain":false,"grid":false,"title":null}},
  "color":{"datum":"L-C04-2_PSD","type":"nominal"}}},
{"data":{"name":"pink"},"mark":{"type":"line","strokeWidth":1.3,"clip":true},
 "encoding":{
  "x":{"field":"f","type":"quantitative","axis":{"orient":"bottom","values":[2.5,7.5,12.5,17.5],"offset":-9,"tickSize":9,"tickWidth":2.5,"tickColor":"black","labels":false,"domain":false,"grid":false,"title":null}},
  "y":{"field":"v","type":"quantitative","axis":{"orient":"left","values":[2e-11,4e-11,6e-11,8e-11,2e-10,4e-10,6e-10,8e-10,2e-9,4e-9,6e-9,8e-9,2e-8,4e-8,6e-8,8e-8,2e-7,4e-7,6e-7,8e-7,2e-6,4e-6,6e-6,8e-6,2e-5,4e-5,6e-5,8e-5,2e-4,4e-4,6e-4,8e-4],"offset":-12,"tickSize":12,"tickWidth":3,"tickColor":"black","labels":false,"domain":false,"grid":false,"title":null}},
  "color":{"datum":"L-C04-2o_PSD + dif_PSD","type":"nominal"}}},
{"data":{"values":[{}]},"mark":{"type":"rule","color":"#aaaaaa","strokeWidth":1},
 "encoding":{"x":{"datum":0,"type":"quantitative","axis":null},"x2":{"datum":13.55},"y":{"datum":7.13e-4,"type":"quantitative","axis":null}}},
{"data":{"values":[{}]},"mark":{"type":"rule","color":"black","strokeWidth":3},
 "encoding":{"x":{"datum":13.55,"type":"quantitative","axis":null},"y":{"datum":1e-3,"type":"quantitative","axis":null},"y2":{"datum":4.94e-5}}},
{"data":{"values":[{}]},"mark":{"type":"rule","color":"black","strokeWidth":3},
 "encoding":{"x":{"datum":14.77,"type":"quantitative","axis":null},"y":{"datum":1e-3,"type":"quantitative","axis":null},"y2":{"datum":4.94e-5}}},
{"data":{"values":[{}]},"mark":{"type":"rule","color":"black","strokeWidth":2.5},
 "encoding":{"x":{"datum":17.31,"type":"quantitative","axis":null},"y":{"datum":1e-3,"type":"quantitative","axis":null},"y2":{"datum":4.94e-5}}},
{"data":{"values":[{}]},"mark":{"type":"rule","color":"black","strokeWidth":3},
 "encoding":{"x":{"datum":13.55,"type":"quantitative","axis":null},"x2":{"datum":20},"y":{"datum":4.94e-5,"type":"quantitative","axis":null}}},
{"data":{"values":[{}]},"mark":{"type":"text","text":"PSD L-C04-2","font":"Open Sans","fontWeight":"bold","fontSize":39.5,"align":"center","baseline":"alphabetic","color":"black"},
 "encoding":{"x":{"datum":9.93,"type":"quantitative","axis":null},"y":{"datum":3.15e-5,"type":"quantitative","axis":null}}},
{"data":{"values":[{}]},"mark":{"type":"text","text":"noise","font":"Open Sans","fontSize":33,"align":"center","baseline":"alphabetic","color":"black"},
 "encoding":{"x":{"datum":3.46,"type":"quantitative","axis":null},"y":{"datum":1.2e-10,"type":"quantitative","axis":null}}}
],
"resolve":{"axis":{"x":"independent","y":"independent"}},
"config":{
 "font":"Liberation Sans",
 "view":{"stroke":"black","strokeWidth":2},
 "axis":{"labelFlush":false,"labelOverlap":false},
 "legend":{"orient":"none","legendX":912,"legendY":0,"padding":10,"symbolType":"M-2.9,0H2.9","symbolSize":400,"symbolStrokeWidth":1.2,"symbolOffset":25,"labelOffset":32,"rowPadding":22,"labelFont":"Liberation Sans","labelFontSize":12.4,"labelColor":"#1a4cff","labelLimit":300}
}
}
